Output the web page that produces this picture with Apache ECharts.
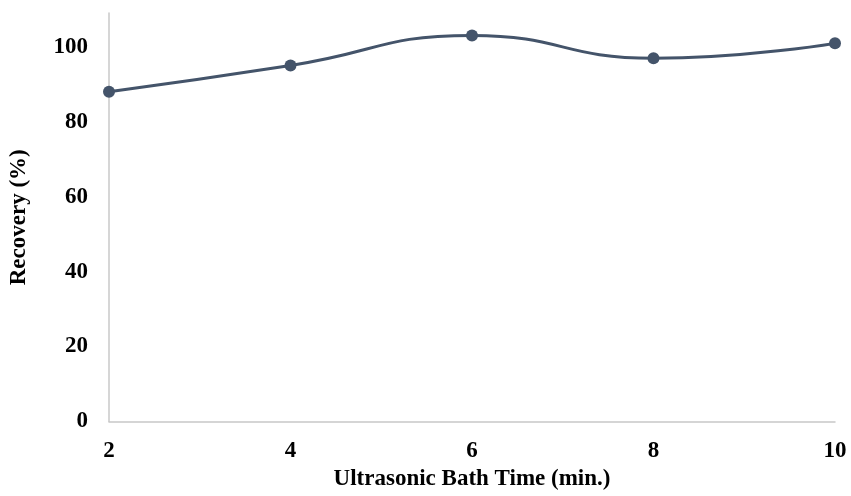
<!DOCTYPE html>
<html>
<head>
<meta charset="utf-8">
<script src="https://cdn.jsdelivr.net/npm/echarts@6/dist/echarts.min.js"></script>
<style>html,body{margin:0;padding:0;background:#fff}#c{width:851px;height:496px}</style>
</head>
<body>
<div id="c"></div>
<script>
var times = [2, 4, 6, 8, 10];
var recovery = [88, 95, 103, 96.9, 100.9];
var xTicks = [2, 4, 6, 8, 10];
var yTicks = [0, 20, 40, 60, 80, 100];

var chart = echarts.init(document.getElementById('c'));
var font = '"Liberation Serif","Times New Roman",serif';
chart.setOption({
  animation: false,
  grid: {left: 109, right: 16, top: 13, bottom: 74.5, containLabel: false, outerBoundsMode: 'none'},
  xAxis: {
    type: 'value', min: 2, max: 10, interval: 2,
    name: 'Ultrasonic Bath Time (min.)', nameLocation: 'middle', nameGap: 40,
    nameTextStyle: {fontFamily: font, fontWeight: 'bold', fontSize: 23, color: '#000'},
    axisLine: {lineStyle: {color: '#C8C8C8', width: 1.5}},
    axisTick: {show: false},
    splitLine: {show: false},
    axisLabel: {fontFamily: font, fontWeight: 'bold', fontSize: 23, color: '#000', margin: 18,
      formatter: function(v){ return xTicks.indexOf(v) >= 0 ? String(v) : ''; }}
  },
  yAxis: {
    type: 'value', min: 0, max: 109, interval: 20,
    name: 'Recovery (%)', nameLocation: 'middle', nameGap: 78, nameRotate: 90,
    nameTextStyle: {fontFamily: font, fontWeight: 'bold', fontSize: 23, color: '#000'},
    axisLine: {show: true, lineStyle: {color: '#C8C8C8', width: 1.5}},
    axisTick: {show: false},
    splitLine: {show: false},
    axisLabel: {fontFamily: font, fontWeight: 'bold', fontSize: 23, color: '#000', margin: 21,
      showMaxLabel: false,
      formatter: function(v){ return yTicks.indexOf(v) >= 0 ? String(v) : ''; }}
  },
  series: [{
    type: 'line',
    data: times.map(function(t, i){ return [t, recovery[i]]; }),
    smooth: 0.5,
    symbol: 'circle', symbolSize: 12,
    lineStyle: {color: '#44546A', width: 3},
    itemStyle: {color: '#44546A'}
  }]
});
</script>
</body>
</html>
